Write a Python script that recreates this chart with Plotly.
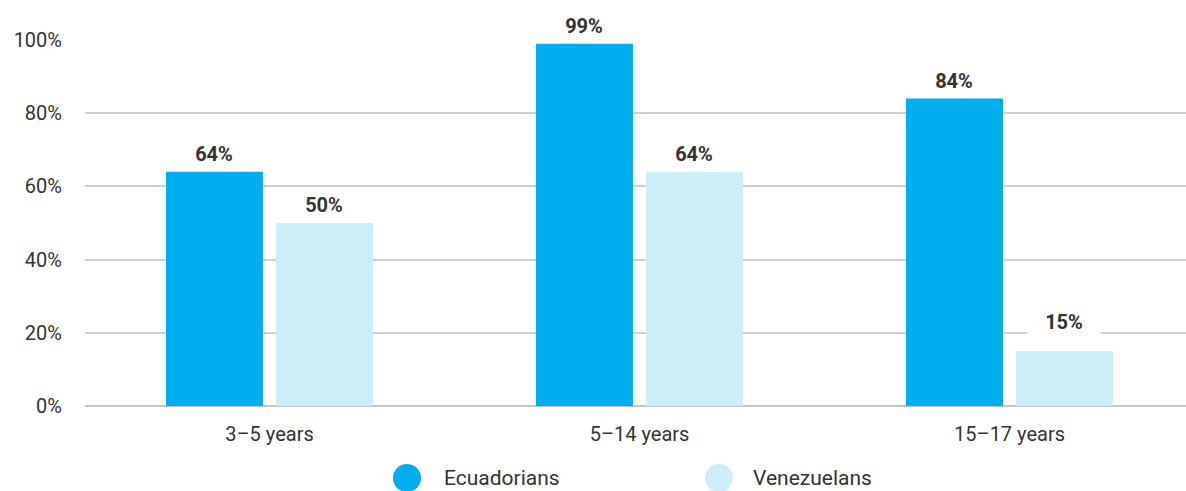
import plotly.graph_objects as go

# School attendance by age group
categories = ["3–5 years", "5–14 years", "15–17 years"]
ecuadorians = [64, 99, 84]
venezuelans = [50, 64, 15]
series_names = ["Ecuadorians", "Venezuelans"]
colors = ["#00AEEF", "#CCEEF9"]
y_ticks = [0, 20, 40, 60, 80, 100]
y_tick_labels = ["0%", "20%", "40%", "60%", "80%", "100%"]

FONT = "Roboto, Arial, sans-serif"
TEXT_COLOR = "#333333"

x_idx = list(range(len(categories)))
bar_w = 0.262
offsets = [-0.2797, 0.0176]

fig = go.Figure()
for name, vals, col, off in zip(series_names, [ecuadorians, venezuelans], colors, offsets):
    fig.add_trace(go.Bar(
        x=x_idx, y=vals, name=name, marker=dict(color=col, line=dict(width=0)),
        width=bar_w, offset=off, showlegend=False, hoverinfo="skip",
    ))

# Value labels above the bars, on white boxes that hide the gridlines
label_lift = [[18, 18, 18], [18, 18, 29]]
for s, (vals, off) in enumerate(zip([ecuadorians, venezuelans], offsets)):
    for i, v in enumerate(vals):
        fig.add_annotation(
            x=i + off + bar_w / 2, y=v, xref="x", yref="y",
            text=f"<b>{v}%</b>", showarrow=False,
            font=dict(family=FONT, size=20, color=TEXT_COLOR),
            bgcolor="white", width=70, height=28, borderpad=1,
            yanchor="middle", yshift=label_lift[s][i],
        )

# Legend drawn as large circles with labels beneath the plot
plot_left, plot_w, plot_h, zero_px = 85, 1101, 366, 406
legend_items = [(407, 443), (719, 752)]
legend_y = (zero_px - 478) / plot_h
for (cx, tx), name, col in zip(legend_items, series_names, colors):
    px = (cx - plot_left) / plot_w
    fig.add_shape(
        type="circle", xref="paper", yref="paper",
        xsizemode="pixel", ysizemode="pixel",
        xanchor=px, yanchor=legend_y,
        x0=-14, x1=14, y0=-14, y1=14,
        fillcolor=col, line=dict(width=0),
    )
    fig.add_annotation(
        x=(tx - plot_left) / plot_w, y=legend_y, xref="paper", yref="paper",
        text=name, showarrow=False, xanchor="left", yanchor="middle",
        font=dict(family=FONT, size=21, color=TEXT_COLOR),
        borderpad=0,
    )

fig.update_layout(
    width=1186, height=491,
    margin=dict(l=85, r=0, t=40, b=85),
    paper_bgcolor="white", plot_bgcolor="white",
    font=dict(family=FONT, size=20, color=TEXT_COLOR),
    showlegend=False,
    xaxis=dict(
        tickmode="array", tickvals=x_idx, ticktext=categories,
        range=[-0.4986, 2.477], showgrid=False, zeroline=False,
        showline=False, ticks="", ticklabelstandoff=14,
        tickfont=dict(size=20, color=TEXT_COLOR),
    ),
    yaxis=dict(
        tickmode="array", tickvals=y_ticks, ticktext=y_tick_labels,
        range=[0, 100], showgrid=True, gridcolor="#CFCFCF", gridwidth=1.5,
        zeroline=True, zerolinecolor="#C4C4C4", zerolinewidth=2,
        showline=False, ticks="", ticklabelstandoff=22,
        tickfont=dict(size=20, color=TEXT_COLOR),
    ),
)

fig.write_html("out.html")
